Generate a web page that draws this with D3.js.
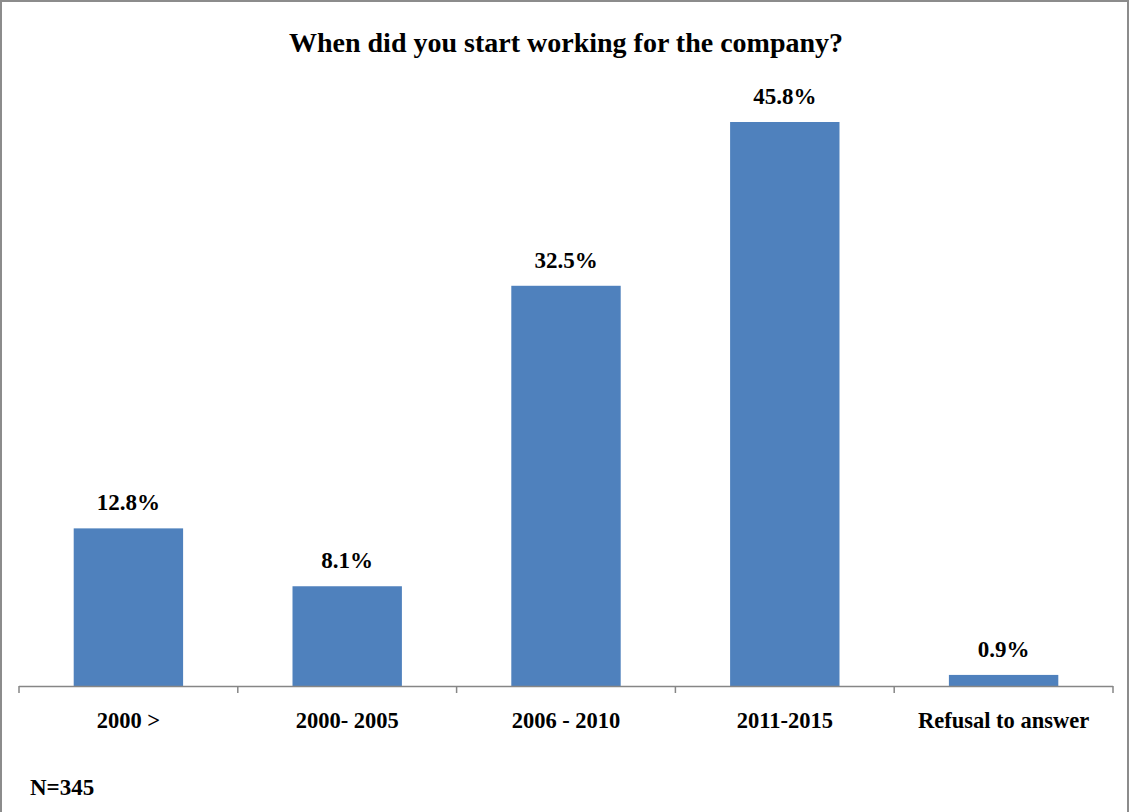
<!DOCTYPE html>
<html>
<head>
<meta charset="utf-8">
<script src="https://cdn.jsdelivr.net/npm/d3@7"></script>
<style>
  html, body { margin: 0; padding: 0; background: #fff; }
  svg text { font-family: "Liberation Serif", "DejaVu Serif", serif; fill: #000; }
</style>
</head>
<body>
<svg id="chart" width="1130" height="812"></svg>
<script>
// Survey answers: start year of employment
const categories = ["2000 >", "2000- 2005", "2006 - 2010", "2011-2015", "Refusal to answer"];
const shares = [12.8, 8.1, 32.5, 45.8, 0.9];
const titleText = "When did you start working for the company?";
const noteText = "N=345";

const W = 1130, H = 812;
const plot = { left: 19, right: 1113, top: 122, bottom: 686 };

const svg = d3.select("#chart");

// outer frame (bottom edge runs past the canvas)
svg.append("rect")
  .attr("x", 1).attr("y", 1)
  .attr("width", W - 3).attr("height", H + 4)
  .attr("fill", "#fff")
  .attr("stroke", "#8c8c8c")
  .attr("stroke-width", 2);

const x = d3.scaleBand()
  .domain(categories)
  .range([plot.left, plot.right])
  .paddingInner(0.5)
  .paddingOuter(0.25);

const y = d3.scaleLinear()
  .domain([0, 45.8])
  .range([plot.bottom, plot.top]);

// bars
svg.append("g")
  .selectAll("rect")
  .data(categories)
  .join("rect")
  .attr("x", d => x(d))
  .attr("width", x.bandwidth())
  .attr("y", (d, i) => y(shares[i]))
  .attr("height", (d, i) => y(0) - y(shares[i]))
  .attr("fill", "#4f81bd");

// value labels
svg.append("g")
  .selectAll("text")
  .data(categories)
  .join("text")
  .attr("x", d => x(d) + x.bandwidth() / 2)
  .attr("y", (d, i) => y(shares[i]) - 18)
  .attr("text-anchor", "middle")
  .attr("font-size", 23)
  .attr("font-weight", "bold")
  .text((d, i) => shares[i].toFixed(1) + "%");

// category axis with boundary ticks
const edges = d3.range(categories.length + 1).map(i => plot.left + i * (plot.right - plot.left) / categories.length);
const axisG = svg.append("g");
axisG.append("line")
  .attr("x1", plot.left).attr("x2", plot.right)
  .attr("y1", plot.bottom + 0.5).attr("y2", plot.bottom + 0.5)
  .attr("stroke", "#868686").attr("stroke-width", 1.5);
axisG.selectAll("line.tick")
  .data(edges)
  .join("line")
  .attr("class", "tick")
  .attr("x1", d => d).attr("x2", d => d)
  .attr("y1", plot.bottom).attr("y2", plot.bottom + 7)
  .attr("stroke", "#868686").attr("stroke-width", 1.5);
axisG.selectAll("text")
  .data(categories)
  .join("text")
  .attr("x", d => x(d) + x.bandwidth() / 2)
  .attr("y", plot.bottom + 42)
  .attr("text-anchor", "middle")
  .attr("font-size", 22.5)
  .attr("font-weight", "bold")
  .text(d => d);

// title
svg.append("text")
  .attr("x", 566).attr("y", 52)
  .attr("text-anchor", "middle")
  .attr("font-size", 28)
  .attr("font-weight", "bold")
  .text(titleText);

// sample size note
svg.append("text")
  .attr("x", 30).attr("y", 795)
  .attr("font-size", 23)
  .attr("font-weight", "bold")
  .text(noteText);
</script>
</body>
</html>
